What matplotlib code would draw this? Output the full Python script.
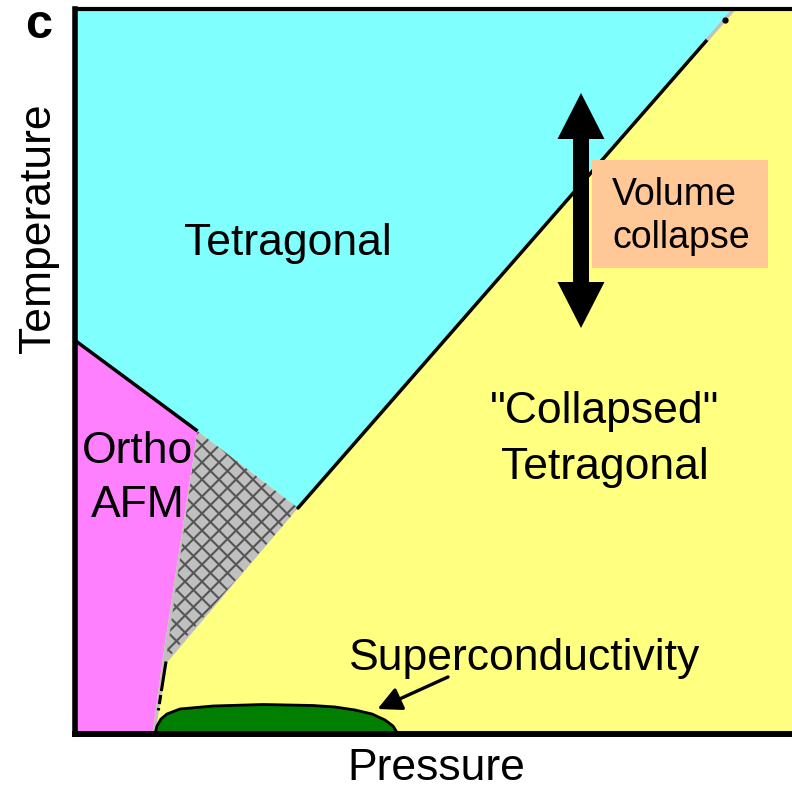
import numpy as np
import matplotlib
matplotlib.use("Agg")
import matplotlib.pyplot as plt
from matplotlib.patches import Polygon, Rectangle, FancyArrowPatch

plt.rcParams['font.family'] = ['Liberation Sans', 'DejaVu Sans']

# ---- phase diagram geometry (arbitrary pressure / temperature units) ----
P_MAX, T_MAX = 717.5, 725

# orthorhombic AFM / tetragonal boundary
afm_tet_P = [0, 123]
afm_tet_T = [394, 303]

# mixed-phase (hatched) region
mixed_P = [123, 223.5, 91.5]
mixed_T = [303, 226, 73.5]

# tetragonal / collapsed tetragonal boundary (solid part, then uncertain part)
collapse_P = [223.5, 632.5]
collapse_T = [226, 694]
collapse_ext_P = [632.5, 659.6]
collapse_ext_T = [694, 725]
collapse_dot_P, collapse_dot_T = 650.5, 714

# AFM / collapsed boundary (dashed)
afm_col_P = [91.5, 83.5]
afm_col_T = [72.5, 21.5]

# superconducting dome outline
dome_P = [80.5, 82.5, 86.5, 92.5, 105.5, 138.5, 188.5, 238.5, 260.5,
          280.5, 297.5, 310.5, 318.5, 323.5]
dome_T = [0, 8, 15, 20, 25, 28, 29.5, 28.5, 27, 24, 20, 14, 8, 0]

# volume-collapse double arrow
vc_P = 506.5
vc_T = [406, 641]

fig = plt.figure(figsize=(7.92, 7.88), dpi=100)
W, H = 792, 788
ax = fig.add_axes([74.5 / W, (H - 734) / H, (W - 74.5) / W, (734 - 9) / H])
ax.set_xlim(0, P_MAX)
ax.set_ylim(0, T_MAX)
ax.set_xticks([])
ax.set_yticks([])
ax.set_facecolor('#FFFF80')

YELLOW, CYAN, PINK, GREY = '#FFFF80', '#80FFFF', '#FF80FF', '#C0C0C0'

# tetragonal region
cyan_poly = [(0, T_MAX), (afm_tet_P[0], afm_tet_T[0]), (afm_tet_P[1], afm_tet_T[1]),
             (mixed_P[1], mixed_T[1]), (collapse_ext_P[1], collapse_ext_T[1])]
ax.add_patch(Polygon(cyan_poly, closed=True, facecolor=CYAN, edgecolor='none', zorder=1))

# orthorhombic AFM region
pink_poly = [(0, 0), (afm_tet_P[0], afm_tet_T[0]), (afm_tet_P[1], afm_tet_T[1]),
             (88, 74), (78, 0)]
ax.add_patch(Polygon(pink_poly, closed=True, facecolor=PINK, edgecolor='none', zorder=1))

# grey coexistence region with a narrow strip down to the dome
grey_poly = [(mixed_P[0], mixed_T[0]), (mixed_P[1], mixed_T[1]), (93, 72),
             (84, 21), (81, 0), (78, 0), (88, 74)]
ax.add_patch(Polygon(grey_poly, closed=True, facecolor=GREY, edgecolor='none', zorder=1.5))

# cross-hatching clipped to the mixed triangle
tri = Polygon(list(zip(mixed_P, mixed_T)), closed=True, facecolor='none',
              edgecolor='none', zorder=1.6)
ax.add_patch(tri)
step = 17.0
pp = np.array([0, P_MAX])
for c in np.arange(-400, 800, step):
    for sgn in (1, -1):
        ln, = ax.plot(pp, sgn * pp + c, color='#555555', lw=1.5, zorder=1.6,
                      solid_capstyle='butt')
        ln.set_clip_path(tri)

# phase boundaries
ax.plot(afm_tet_P, afm_tet_T, color='black', lw=2.5, zorder=2, solid_capstyle='butt')
ax.plot(collapse_P, collapse_T, color='black', lw=2.5, zorder=2, solid_capstyle='round')
ax.plot(collapse_ext_P, collapse_ext_T, color=GREY, lw=2.5, zorder=2, solid_capstyle='butt')
ax.plot([collapse_dot_P], [collapse_dot_T], 'o', color='black', ms=3.5, zorder=2.1)
ax.plot(afm_col_P, afm_col_T, color='black', lw=2.2, zorder=2,
        linestyle=(0, (9.8, 1.3, 3.0, 1.3, 0.8, 1.3)))

# superconducting dome
ax.add_patch(Polygon(list(zip(dome_P, dome_T)), closed=True, facecolor='#007F00',
                     edgecolor='black', lw=2.0, zorder=3, joinstyle='round'))

# volume collapse label box and double arrow (two overlapping single arrows)
ax.add_patch(Rectangle((517.5, 466), 176, 108, facecolor='#FFC896',
                       edgecolor='none', zorder=4))
ax.arrow(vc_P, vc_T[0] + 40, 0, vc_T[1] - vc_T[0] - 40, width=16, head_width=47,
         head_length=46, length_includes_head=True, facecolor='black',
         edgecolor='none', zorder=5)
ax.arrow(vc_P, vc_T[1] - 40, 0, vc_T[0] - vc_T[1] + 40, width=16, head_width=47,
         head_length=46, length_includes_head=True, facecolor='black',
         edgecolor='none', zorder=5)

# pointer to the dome
ax.add_patch(FancyArrowPatch((373.5, 57), (303, 25),
                             arrowstyle='-|>,head_length=0.8,head_width=0.4',
                             mutation_scale=18, color='black', lw=2.4,
                             shrinkA=0, shrinkB=0, zorder=5))

fs = 32
txt = dict(ha='center', va='baseline', fontsize=fs, color='black', zorder=6)
ax.text(213.5, 479, 'Tetragonal', **txt)
ax.text(63, 271, 'Ortho', **txt)
ax.text(63, 217, 'AFM', **txt)
ax.text(530.5, 311, '"Collapsed"', **txt)
ax.text(530.5, 255, 'Tetragonal', **txt)
ax.text(450.5, 64, 'Superconductivity', **txt)
ax.text(537.5, 529, 'Volume', ha='left', va='baseline', fontsize=27, zorder=6)
ax.text(537.5, 486, 'collapse', ha='left', va='baseline', fontsize=27, zorder=6)

# frame
ax.spines['right'].set_visible(False)
ax.spines['top'].set_linewidth(3)
ax.spines['left'].set_linewidth(4)
ax.spines['bottom'].set_linewidth(4.3)
for s in ax.spines.values():
    s.set_zorder(10)

# axis titles and panel letter
fig.text(436 / W, 1 - 780 / H, 'Pressure', ha='center', va='baseline', fontsize=fs)
fig.text(38.5 / W, 1 - 228 / H, 'Temperature', ha='center', va='center',
         rotation=90, fontsize=fs)
fig.text(39 / W, 1 - 37.5 / H, 'c', ha='center', va='baseline', fontsize=35,
         fontweight='bold')

fig.savefig('out.png', dpi=100)
